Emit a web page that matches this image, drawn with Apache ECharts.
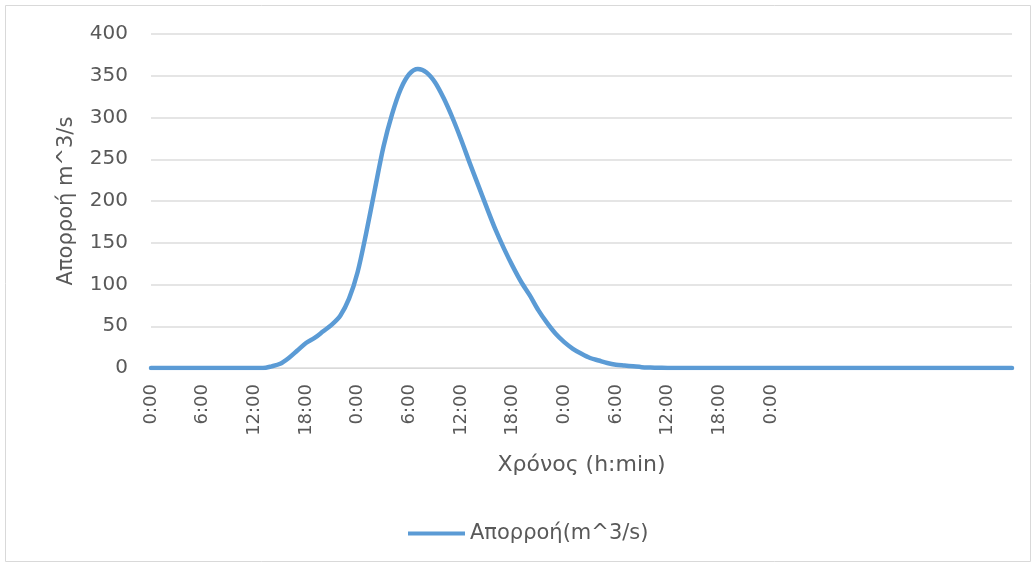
<!DOCTYPE html>
<html>
<head>
<meta charset="utf-8">
<title>Απορροή</title>
<script src="https://cdn.jsdelivr.net/npm/echarts@6/dist/echarts.min.js"></script>
<style>
  html, body { margin: 0; padding: 0; background: #ffffff; }
  #chart { width: 1036px; height: 567px; }
</style>
</head>
<body>
<div id="chart"></div>
<script>
// Hourly runoff hydrograph (m^3/s), hour 0 .. hour 100
const hours = Array.from({ length: 101 }, (_, i) => i);
const runoff = [
  0, 0, 0, 0, 0, 0, 0, 0, 0, 0, 0, 0, 0, 0,
  2, 5, 12, 21, 30, 36, 44, 52, 63, 83,
  115, 162, 214, 265, 304, 334, 352, 358, 354, 342,
  323, 300, 274, 246, 219, 192, 166, 143, 122, 103,
  87, 69, 54, 41, 31, 23, 17, 12, 9, 6,
  4, 3, 2, 1, 0.6, 0.3,
  0, 0, 0, 0, 0, 0, 0, 0, 0, 0,
  0, 0, 0, 0, 0, 0, 0, 0, 0, 0,
  0, 0, 0, 0, 0, 0, 0, 0, 0, 0,
  0, 0, 0, 0, 0, 0, 0, 0, 0, 0,
  0
];
// Labels shown every 6 hours
const tickLabels = ['0:00', '6:00', '12:00', '18:00', '0:00', '6:00', '12:00',
                    '18:00', '0:00', '6:00', '12:00', '18:00', '0:00'];
const yTicks = [0, 50, 100, 150, 200, 250, 300, 350, 400];

const seriesName = 'Απορροή(m^3/s)';
const textColor = '#595959';
const fontFamily = '"DejaVu Sans", sans-serif';

const chart = echarts.init(document.getElementById('chart'), null, { renderer: 'canvas' });

chart.setOption({
  animation: false,
  backgroundColor: '#ffffff',
  textStyle: { fontFamily: fontFamily, color: textColor },
  graphic: [{
    type: 'rect',
    shape: { x: 5.5, y: 5.5, width: 1025, height: 556 },
    style: { fill: 'none', stroke: '#d9d9d9', lineWidth: 1 },
    silent: true
  }],
  grid: { left: 151, right: 24, top: 34, bottom: 199, containLabel: false },
  legend: {
    data: [{ name: seriesName, icon: 'rect' }],
    left: 408,
    top: 523,
    padding: 0,
    itemWidth: 57,
    itemHeight: 4,
    textStyle: { fontSize: 21, color: textColor, fontFamily: fontFamily }
  },
  xAxis: {
    type: 'category',
    data: hours,
    boundaryGap: false,
    name: 'Χρόνος (h:min)',
    nameLocation: 'middle',
    nameGap: 86,
    nameTextStyle: { fontSize: 22, color: textColor, fontFamily: fontFamily },
    axisLine: { show: true, lineStyle: { color: '#d9d9d9', width: 1 } },
    axisTick: { show: false },
    splitLine: { show: false },
    axisLabel: {
      interval: 5,
      rotate: 90,
      margin: 16,
      fontSize: 18,
      color: textColor,
      fontFamily: fontFamily,
      formatter: function (value, index) {
        const k = index / 6;
        return (index % 6 === 0 && k < tickLabels.length) ? tickLabels[k] : '';
      }
    }
  },
  yAxis: {
    type: 'value',
    min: yTicks[0],
    max: yTicks[yTicks.length - 1],
    interval: yTicks[1] - yTicks[0],
    name: 'Απορροή m^3/s',
    nameLocation: 'middle',
    nameGap: 74,
    nameRotate: 90,
    nameTextStyle: { fontSize: 21, color: textColor, fontFamily: fontFamily },
    axisLine: { show: false },
    axisTick: { show: false },
    axisLabel: { margin: 23, fontSize: 20, color: textColor, fontFamily: fontFamily },
    splitLine: { show: true, lineStyle: { color: '#dcdcdc', width: 1.5 } }
  },
  series: [{
    name: seriesName,
    type: 'line',
    data: runoff,
    showSymbol: false,
    symbol: 'none',
    smooth: 0.3,
    lineStyle: { color: '#5b9bd5', width: 4.5, cap: 'round', join: 'round' },
    itemStyle: { color: '#5b9bd5' }
  }]
});
</script>
</body>
</html>
